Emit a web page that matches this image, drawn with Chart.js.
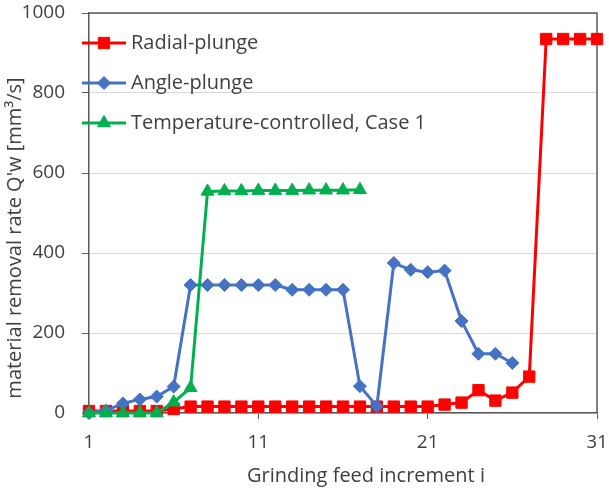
<!DOCTYPE html>
<html>
<head>
<meta charset="utf-8">
<title>Material removal rate</title>
<script src="https://cdn.jsdelivr.net/npm/chart.js@4.4.1/dist/chart.umd.min.js"></script>
<style>
  html, body { margin: 0; padding: 0; background: #fff; }
  #wrap { width: 609px; height: 488px; }
</style>
</head>
<body>
<div id="wrap"><canvas id="chart-mrr" width="609" height="488"></canvas></div>
<script>
// grinding feed increments i = 1..31
const increments = [1, 2, 3, 4, 5, 6, 7, 8, 9, 10, 11, 12, 13, 14, 15, 16,
                    17, 18, 19, 20, 21, 22, 23, 24, 25, 26, 27, 28, 29, 30, 31];

// Q'w in mm^3/s
const radialPlunge   = [5, 5, 5, 5, 5, 10, 16, 16, 16, 16, 16, 16, 16, 16, 16, 16,
                        16, 16, 16, 16, 16, 21, 26, 57, 31, 51, 91, 935, 935, 935, 935];
const anglePlunge    = [0, 6, 24, 34, 41, 66, 320, 320, 320, 320, 320, 320, 308, 308, 308, 308,
                        67, 17, 375, 358, 352, 356, 230, 148, 148, 125];
const tempControlled = [0, 0, 0, 0, 0, 27, 63, 554, 555, 555, 556, 556, 556, 557, 557, 557, 558];

const seriesNames = ['Radial-plunge', 'Angle-plunge', 'Temperature-controlled, Case 1'];
const xTicks = [1, 11, 21, 31];
const yTicks = [0, 200, 400, 600, 800, 1000];

const AXIS = '#595959';
const TEXT = '#404040';
const FONT = "'Open Sans', sans-serif";

function toPoints(vals) {
    return vals.map((v, i) => ({ x: increments[i], y: v }));
}

const series = [
    { data: radialPlunge,   color: '#ff0000', style: 'rect',     radius: 8   },
    { data: anglePlunge,    color: '#4472c4', style: 'rectRot',  radius: 6.5 },
    { data: tempControlled, color: '#00b050', style: 'triangle', radius: 7.5 }
];

// frame on top/right, legend inside plot, axis titles
const decorations = {
    id: 'decorations',
    beforeDatasetsDraw(chart) {
        const { ctx, chartArea: a } = chart;
        ctx.save();
        ctx.strokeStyle = AXIS;
        ctx.lineWidth = 1.5;
        ctx.beginPath();
        ctx.moveTo(a.left, a.top);
        ctx.lineTo(a.right, a.top);
        ctx.lineTo(a.right, a.bottom);
        ctx.stroke();
        ctx.restore();
    },
    afterDatasetsDraw(chart) {
        const ctx = chart.ctx;
        const rows = [43, 83, 123];
        ctx.save();
        series.forEach((s, i) => {
            const y = rows[i];
            ctx.strokeStyle = s.color;
            ctx.lineWidth = 3;
            ctx.beginPath();
            ctx.moveTo(82, y);
            ctx.lineTo(126, y);
            ctx.stroke();
            ctx.fillStyle = s.color;
            ctx.lineWidth = 1;
            Chart.helpers.drawPoint(ctx, { pointStyle: s.style, radius: s.radius, rotation: 0, borderWidth: 1 }, 104, y);
            ctx.fillStyle = TEXT;
            ctx.font = '20px ' + FONT;
            ctx.textAlign = 'left';
            ctx.textBaseline = 'middle';
            ctx.fillText(seriesNames[i], 131, y);
        });
        ctx.restore();
    },
    afterDraw(chart) {
        const ctx = chart.ctx;
        ctx.save();
        ctx.fillStyle = TEXT;
        ctx.font = '20px ' + FONT;
        ctx.textAlign = 'center';
        ctx.textBaseline = 'middle';
        ctx.fillText('Grinding feed increment i', 366, 476);
        ctx.translate(15, 238);
        ctx.rotate(-Math.PI / 2);
        ctx.fillText('material removal rate Q\'w [mm\u00b3/s]', 0, 0);
        ctx.restore();
    }
};

new Chart(document.getElementById('chart-mrr'), {
    type: 'line',
    data: {
        datasets: series.map((s, i) => ({
            label: seriesNames[i],
            data: toPoints(s.data),
            borderColor: s.color,
            backgroundColor: s.color,
            borderWidth: 3,
            pointStyle: s.style,
            pointRadius: s.radius,
            pointBorderWidth: 1,
            pointBackgroundColor: s.color,
            pointBorderColor: s.color,
            tension: 0,
            clip: false,
            order: 3 - i
        }))
    },
    options: {
        responsive: false,
        animation: false,
        devicePixelRatio: 1,
        layout: { padding: { top: 13, right: 12, left: 0, bottom: 0 } },
        plugins: { legend: { display: false }, tooltip: { enabled: false } },
        scales: {
            x: {
                type: 'linear',
                min: 1,
                max: 31,
                afterBuildTicks: s => { s.ticks = xTicks.map(v => ({ value: v })); },
                afterFit: s => { s.height = 75; s.paddingLeft = 0; s.paddingRight = 0; },
                grid: { drawOnChartArea: false, tickLength: 6, tickColor: AXIS },
                border: { color: AXIS, width: 1.5 },
                ticks: { color: TEXT, font: { family: FONT, size: 19 }, padding: 12, maxRotation: 0,
                         callback: v => String(v) }
            },
            y: {
                min: 0,
                max: 1000,
                afterBuildTicks: s => { s.ticks = yTicks.map(v => ({ value: v })); },
                afterFit: s => { s.width = 89; s.paddingTop = 0; s.paddingBottom = 0; },
                grid: { color: '#d9d9d9', lineWidth: 1, tickLength: 7, tickColor: AXIS },
                border: { color: AXIS, width: 1.5 },
                ticks: { color: TEXT, font: { family: FONT, size: 19 }, padding: 17,
                         callback: v => String(v) }
            }
        }
    },
    plugins: [decorations]
});
</script>
</body>
</html>
